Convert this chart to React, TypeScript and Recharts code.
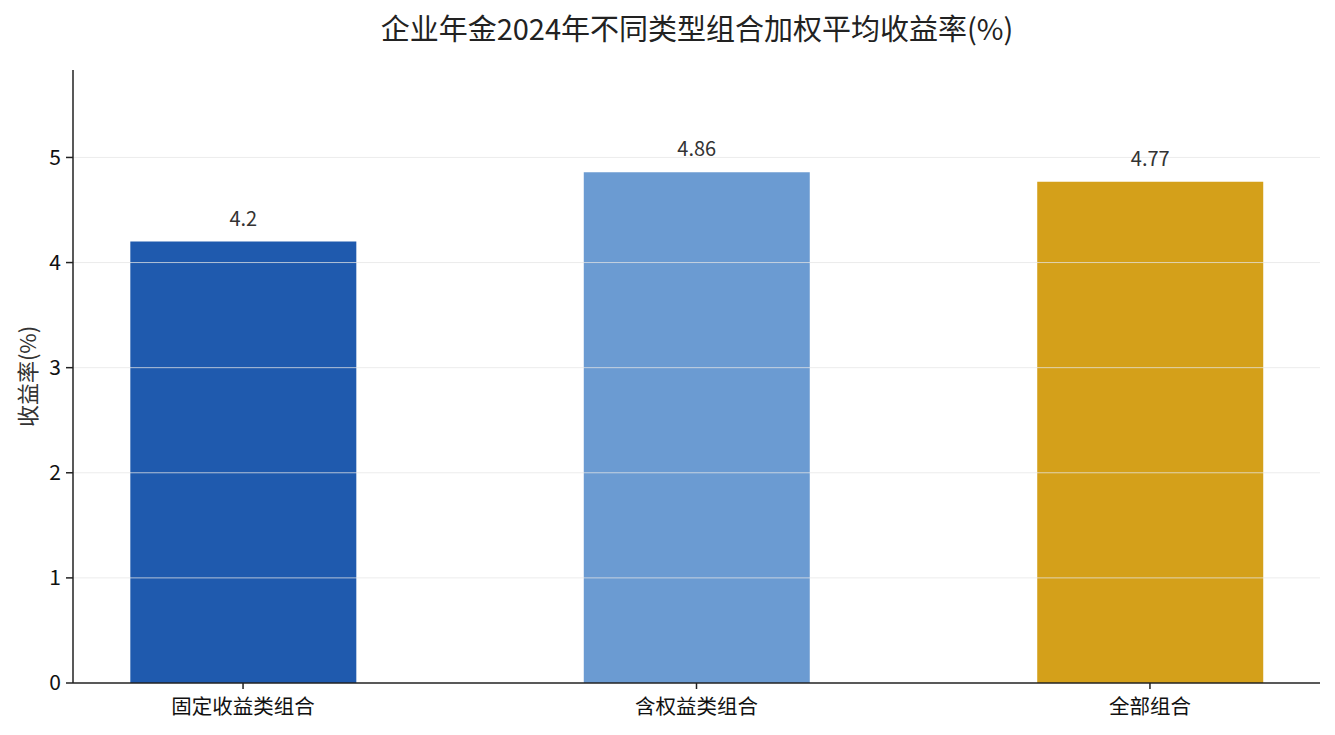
import React from 'react';
import { BarChart, Bar, XAxis, YAxis, Cell, LabelList, ReferenceLine } from 'recharts';

const categories = ['固定收益类组合', '含权益类组合', '全部组合'];
const returns = [4.2, 4.86, 4.77];
const barColors = ['#1f5aae', '#6b9bd2', '#d4a01a'];
const yTicks = [0, 1, 2, 3, 4, 5];

const FONT = '"Noto Sans CJK SC", "Noto Sans", sans-serif';

const data = categories.map((name, idx) => ({ idx, name, value: returns[idx] }));

export default function App() {
  return (
    <div style={{ position: 'absolute', left: 0, top: 0, width: 1335, height: 735, fontFamily: FONT, background: '#fff' }}>
      <div
        style={{
          position: 'absolute',
          top: 7,
          left: 0,
          width: 1394,
          textAlign: 'center',
          fontSize: 29,
          color: '#222',
          lineHeight: '40px',
        }}
      >
        企业年金2024年不同类型组合加权平均收益率(%)
      </div>
      <BarChart
        width={1335}
        height={735}
        data={data}
        margin={{ top: 70, right: 15, bottom: 0, left: 0 }}
        style={{ fontFamily: FONT }}
      >
        <Bar dataKey="value" barSize={226} isAnimationActive={false}>
          {data.map((d, i) => (
            <Cell key={d.name} fill={barColors[i]} />
          ))}
          <LabelList dataKey="value" position="top" offset={16} style={{ fill: '#333', fontSize: 20 }} />
        </Bar>
        {yTicks.slice(1).map((t) => (
          <ReferenceLine key={t} y={t} stroke="#e6e6e6" strokeOpacity={0.75} strokeWidth={1} />
        ))}
        <XAxis
          type="number"
          dataKey="idx"
          domain={[-0.375, 2.375]}
          ticks={[0, 1, 2]}
          tickFormatter={(v) => categories[v]}
          height={52}
          axisLine={{ stroke: '#222', strokeWidth: 1.5 }}
          tickLine={{ stroke: '#222', strokeWidth: 1.5 }}
          tickSize={6}
          tick={{ fill: '#111', fontSize: 20.5, dy: 8 }}
          allowDataOverflow
        />
        <YAxis
          type="number"
          domain={[0, 5.832]}
          ticks={yTicks}
          width={73}
          axisLine={{ stroke: '#222', strokeWidth: 1.5 }}
          tickLine={{ stroke: '#222', strokeWidth: 1.5 }}
          tickSize={7}
          tick={{ fill: '#111', fontSize: 21, dx: -3 }}
          allowDataOverflow
          label={{ value: '收益率(%)', angle: -90, position: 'insideLeft', offset: 18, dx: 10, style: { textAnchor: 'middle', fill: '#333', fontSize: 22 } }}
        />
      </BarChart>
    </div>
  );
}
